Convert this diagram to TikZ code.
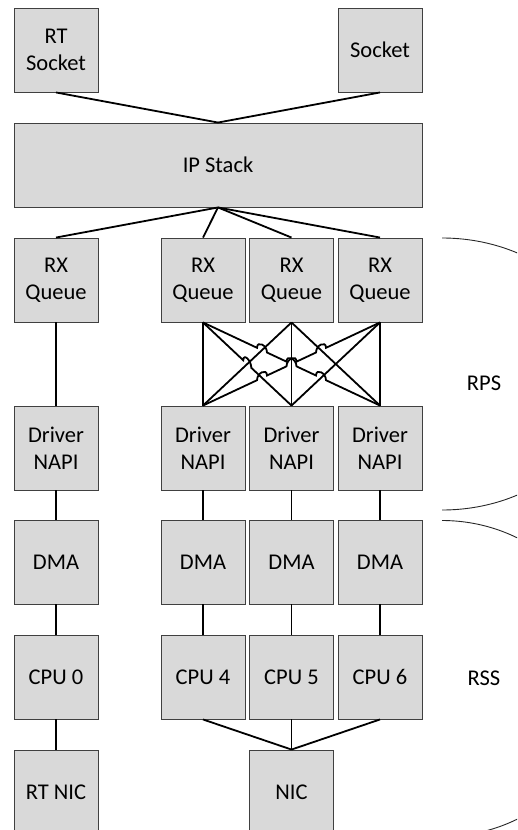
\documentclass[tikz,border=0pt]{standalone}
\usepackage{fontspec}
\setmainfont{Carlito}
\usetikzlibrary{calc}
\definecolor{boxfill}{HTML}{D9D9D9}
\definecolor{boxline}{HTML}{404040}
% a line jump: leave the line r before the crossing #1 (coming from #2)
% and bridge over it with a small cap, landing r after it (towards #3)
\newcommand\hopat[3]{-- ($(#1)!5.5pt!(#2)$) .. controls +(0,-7.5) and +(0,-7.5) .. ($(#1)!5.5pt!(#3)$)}
\tikzset{
  unit/.style={draw=boxline, fill=boxfill, line width=0.9pt,
    minimum width=84pt, minimum height=84pt, inner sep=0pt, align=center,
    font=\fontsize{22.5}{27}\selectfont},
  tag/.style={inner sep=0pt, font=\fontsize{22.5}{27}\selectfont},
  link/.style={line width=1.8pt, black},
  curl/.style={line width=0.9pt, black!85},
}
\begin{document}
\begin{tikzpicture}[x=1pt, y=-1pt]
\useasboundingbox (0,0) rectangle (517,830);
\clip (0,0) rectangle (517,830);

% sockets and stack
\node[unit] (rts)  at (56,50)   {RT\\Socket};
\node[unit] (sock) at (380,50)  {Socket};
\node[unit, minimum width=408pt] (ip) at (218,165) {IP Stack};

% receive queues
\node[unit] (q0) at (56,280)    {RX\\Queue};
\node[unit] (q1) at (203,280)   {RX\\Queue};
\node[unit] (q2) at (291.5,280) {RX\\Queue};
\node[unit] (q3) at (380,280)   {RX\\Queue};

% drivers
\node[unit] (d0) at (56,448)    {Driver\\NAPI};
\node[unit] (d1) at (203,448)   {Driver\\NAPI};
\node[unit] (d2) at (291.5,448) {Driver\\NAPI};
\node[unit] (d3) at (380,448)   {Driver\\NAPI};

% DMA engines
\node[unit] (m0) at (56,562)    {DMA};
\node[unit] (m1) at (203,562)   {DMA};
\node[unit] (m2) at (291.5,562) {DMA};
\node[unit] (m3) at (380,562)   {DMA};

% cores
\node[unit] (c0) at (56,677)    {CPU 0};
\node[unit] (c1) at (203,677)   {CPU 4};
\node[unit] (c2) at (291.5,677) {CPU 5};
\node[unit] (c3) at (380,677)   {CPU 6};

% adapters
\node[unit] (rtnic) at (56,792)  {RT NIC};
\node[unit] (nic) at (291.5,792) {NIC};

% sockets to stack, stack to queues
\draw[link] (rts.south) -- (ip.north);
\draw[link] (sock.south) -- (ip.north);
\foreach \q in {q0,q1,q2,q3} \draw[link] (ip.south) -- (\q.north);

% real-time path
\draw[link] (q0.south) -- (d0.north);
\draw[link] (d0.south) -- (m0.north);
\draw[link] (m0.south) -- (c0.north);
\draw[link] (c0.south) -- (rtnic.north);

% shared path below the drivers
\foreach \i in {1,2,3} {
  \draw[link] (d\i.south) -- (m\i.north);
  \draw[link] (m\i.south) -- (c\i.north);
  \draw[link] (c\i.south) -- (nic.north);
}

% crossbar between queues and drivers
\coordinate (X1) at (intersection of q1.south--d3.north and q2.south--d1.north);
\coordinate (X2) at (intersection of q1.south--d3.north and q3.south--d1.north);
\coordinate (X3) at (intersection of q1.south--d3.north and q3.south--d2.north);
\coordinate (X4) at (intersection of q3.south--d1.north and q1.south--d2.north);
\coordinate (X5) at (intersection of q3.south--d1.north and q2.south--d3.north);
\coordinate (X6) at (intersection of q1.south--d2.north and q2.south--d1.north);

\draw[link] (q1.south) -- (d1.north);
\draw[link] (q2.south) -- (d2.north);
\draw[link] (q3.south) -- (d3.north);
\draw[link] (q2.south) -- (d1.north);
\draw[link] (q2.south) -- (d3.north);
\draw[link] (q3.south) -- (d2.north);
\draw[link] (q1.south) \hopat{X6}{q1.south}{d2.north} -- (d2.north);
\draw[link] (q1.south) \hopat{X1}{q1.south}{d3.north}
  \hopat{X2}{q1.south}{d3.north} \hopat{X3}{q1.south}{d3.north} -- (d3.north);
\draw[link] (d1.north) \hopat{X4}{d1.north}{q3.south}
  \hopat{X2}{d1.north}{q3.south} \hopat{X5}{d1.north}{q3.south} -- (q3.south);

% scaling groups
\draw[curl] (442,238) arc[start angle=-90, end angle=90, x radius=165, y radius=136];
\draw[curl] (442,520.5) arc[start angle=-90, end angle=90, x radius=165, y radius=158];
\node[tag] (rps) at (484,383) {RPS};
\node[tag] (rss) at (484,678) {RSS};
\end{tikzpicture}
\end{document}
